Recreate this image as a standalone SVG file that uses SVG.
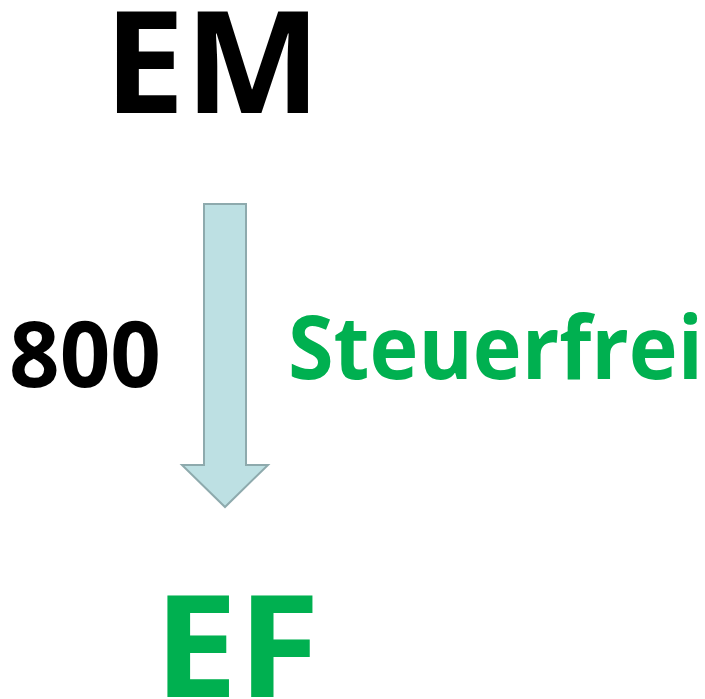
<svg xmlns="http://www.w3.org/2000/svg" width="705" height="699" viewBox="0 0 705 699">
<style>
.t{font-family:"Open Sans","Liberation Sans",sans-serif;font-weight:bold}
.k{fill:#000}
.g{fill:#00b050}
</style>
<rect width="705" height="699" fill="#fff"/>
<g id="EM"><text class="t k" x="104" y="113" font-size="141" textLength="217" lengthAdjust="spacingAndGlyphs">EM</text></g>
<g id="EF"><text class="t g" x="154" y="697" font-size="142" textLength="166" lengthAdjust="spacingAndGlyphs">EF</text></g>
<g id="connectors">
<path d="M204,204 H246 V465 H268 L225,507 L182,465 H204 Z" fill="#bde0e3" stroke="#8eaaad" stroke-width="2" stroke-linejoin="miter"/>
<text class="t k" x="9" y="387" font-size="91" textLength="152" lengthAdjust="spacingAndGlyphs">800</text>
<text class="t g" x="288" y="379" font-size="87" textLength="415" lengthAdjust="spacingAndGlyphs">Steuerfrei</text>
</g>
</svg>
